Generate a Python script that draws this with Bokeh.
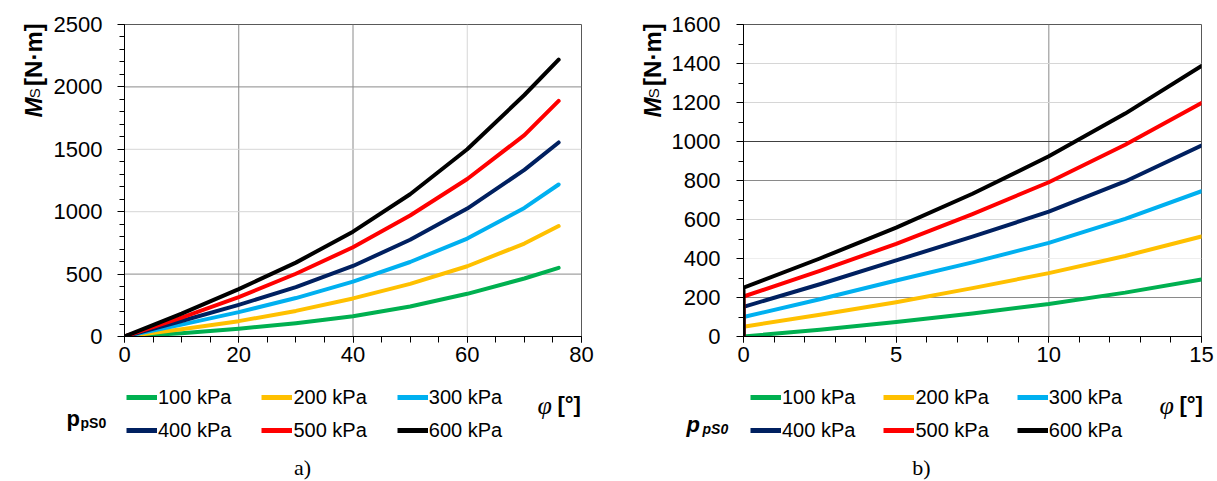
import math
from bokeh.plotting import figure
from bokeh.models import Range1d, SingleIntervalTicker, Span, Legend, LegendItem
from bokeh.layouts import row, column
from bokeh.core.properties import value
from bokeh.embed import file_html
from bokeh.resources import INLINE

# ---------------- data ----------------
series_labels = ["100 kPa", "200 kPa", "300 kPa", "400 kPa", "500 kPa", "600 kPa"]
series_colors = ["#00B050", "#FFC000", "#00B0F0", "#002060", "#FF0000", "#000000"]

# panel a)
phi_a = [0, 10, 20, 30, 40, 50, 60, 70, 76]
ms_a_100 = [0, 27, 62, 107, 162, 240, 342, 465, 550]
ms_a_200 = [0, 58, 123, 205, 305, 422, 563, 745, 885]
ms_a_300 = [0, 95, 195, 308, 440, 597, 785, 1030, 1218]
ms_a_400 = [0, 124, 254, 395, 565, 775, 1025, 1335, 1555]
ms_a_500 = [0, 152, 315, 503, 715, 970, 1262, 1614, 1888]
ms_a_600 = [0, 184, 380, 592, 840, 1140, 1500, 1935, 2218]

# panel b)
phi_b = [0, 0, 2.5, 5, 7.5, 10, 12.5, 15]
ms_b_100 = [0, 0, 35, 74, 118, 167, 225, 292]
ms_b_200 = [0, 50, 112, 176, 248, 325, 413, 513]
ms_b_300 = [0, 100, 191, 287, 380, 480, 603, 745]
ms_b_400 = [0, 152, 268, 390, 512, 640, 795, 979]
ms_b_500 = [0, 205, 337, 475, 628, 791, 983, 1197]
ms_b_600 = [0, 250, 400, 558, 732, 924, 1143, 1387]

FONT = "Liberation Sans"
SERIF = "Liberation Serif"
DARK = "#8a8a8a"
LIGHT = "#d6d6d6"

TOP_H = 376      # height of the chart row
BOT_H = 481 - TOP_H


def make_fig(xr, yr, xint, xminor, yint, yminor, left_border, frame_w, right_border, y_standoff):
    p = figure(output_backend="svg", toolbar_location=None,
               frame_width=frame_w, frame_height=312,
               min_border_left=left_border, min_border_right=right_border,
               min_border_top=24, min_border_bottom=TOP_H - 24 - 312,
               x_range=Range1d(*xr), y_range=Range1d(*yr))
    p.xgrid.visible = False
    p.ygrid.visible = False
    p.outline_line_color = "#595959"
    p.outline_line_width = 1
    p.xaxis.ticker = SingleIntervalTicker(interval=xint, num_minor_ticks=xminor)
    p.yaxis.ticker = SingleIntervalTicker(interval=yint, num_minor_ticks=yminor)
    for ax in (p.xaxis[0], p.yaxis[0]):
        ax.axis_line_color = "black"
        ax.axis_line_width = 1
        ax.major_tick_line_color = "black"
        ax.minor_tick_line_color = "black"
        ax.major_tick_in = 0
        ax.minor_tick_in = 0
        ax.major_label_text_font = FONT
        ax.major_label_text_font_size = "22px"
        ax.major_label_text_color = "black"
    p.xaxis.major_tick_out = 6
    p.xaxis.minor_tick_out = 6
    p.xaxis.major_label_standoff = 4
    p.yaxis.major_tick_out = 7
    p.yaxis.minor_tick_out = 5
    p.yaxis.major_label_standoff = y_standoff
    return p


def helper(w, h):
    f = figure(output_backend="svg", toolbar_location=None, width=w, height=h,
               x_range=Range1d(0, w), y_range=Range1d(h, 0),
               x_axis_type=None, y_axis_type=None, min_border=0)
    f.xgrid.visible = False
    f.ygrid.visible = False
    f.outline_line_color = None
    return f


def txt(f, x, y, s, size, style="normal", font=FONT, align="left", angle=0.0):
    f.text(x=[x], y=[y], text=[s], text_font=value(font), text_font_size=size,
           text_font_style=style, text_color="black", text_align=align,
           text_baseline="alphabetic", angle=angle)


def add_grid(p, xs, ys):
    for loc, col in xs:
        p.add_layout(Span(location=loc, dimension="height", line_color=col, line_width=1, level="underlay"))
    for loc, col in ys:
        p.add_layout(Span(location=loc, dimension="width", line_color=col, line_width=1, level="underlay"))


def add_legends(f, x0, spacing):
    # legend-only renderers (kept outside the visible area of the helper canvas)
    rends = [f.line(x=[-100, -90], y=[-100, -100], line_color=c, line_width=5) for c in series_colors]
    for i, bottom in enumerate((72, 39)):
        items = [LegendItem(label=series_labels[3 * i + k], renderers=[rends[3 * i + k]]) for k in range(3)]
        lg = Legend(items=items, location=(x0, bottom), orientation="horizontal",
                    spacing=spacing, padding=0, margin=0, glyph_width=31, glyph_height=24,
                    label_height=24, label_standoff=1, label_text_font=FONT,
                    label_text_font_size="20px", label_text_baseline="middle",
                    label_text_color="black",
                    background_fill_alpha=0, border_line_alpha=0)
        f.add_layout(lg)


def y_title(f, xb):
    # rotated "M_S [N·m]" built from styled pieces, reading bottom to top
    txt(f, xb, 112, "M", "24px", "bold italic", angle=math.pi / 2)
    txt(f, xb + 1, 89, "S", "15px", "normal", angle=math.pi / 2)
    txt(f, xb, 74, "[N·m]", "24px", "bold", angle=math.pi / 2)


# ---------------- panel a ----------------
pa = make_fig((0, 80), (0, 2500), 20, 4, 500, 5, 74, 457, 27, 15)
add_grid(pa, [(20, DARK), (40, DARK), (60, LIGHT)],
         [(500, DARK), (1000, LIGHT), (1500, LIGHT), (2000, DARK)])
for ys, c in zip([ms_a_100, ms_a_200, ms_a_300, ms_a_400, ms_a_500, ms_a_600], series_colors):
    pa.line(phi_a, ys, line_color=c, line_width=4, line_cap="round", line_join="round")

ya = helper(50, TOP_H)
y_title(ya, 33)

ba = helper(608, BOT_H)
add_legends(ba, 126, 30)
txt(ba, 66, 42, "p", "22px", "bold")
txt(ba, 80, 46, "pS0", "14px", "bold")
txt(ba, 537, 29, "φ", "26px", "italic", font=SERIF)
txt(ba, 557, 28, "[°]", "22px", "bold")
txt(ba, 302, 91, "a)", "22px", "normal", font=SERIF, align="center")

# ---------------- panel b ----------------
YB_W = 60
pb = make_fig((0, 15), (0, 1600), 5, 5, 200, 2, 741 - 608 - YB_W, 458, 18, 16)
add_grid(pb, [(5, "#e4e4e4"), (10, DARK)],
         [(200, DARK), (400, "#eeeeee"), (600, LIGHT), (800, DARK), (1000, "#404040"),
          (1200, LIGHT), (1400, LIGHT)])
for ys, c in zip([ms_b_100, ms_b_200, ms_b_300, ms_b_400, ms_b_500, ms_b_600], series_colors):
    pb.line(phi_b, ys, line_color=c, line_width=4, line_cap="round", line_join="round")

yb = helper(YB_W, TOP_H)
y_title(yb, 652 - 608)

bb = helper(609, BOT_H)
add_legends(bb, 750 - 608, 28)
txt(bb, 686 - 608, 48, "p", "22px", "bold italic")
txt(bb, 702 - 608, 52, "pS0", "14px", "bold italic")
txt(bb, 1159 - 608, 29, "φ", "26px", "italic", font=SERIF)
txt(bb, 1179 - 608, 28, "[°]", "22px", "bold")
txt(bb, 921 - 608, 91, "b)", "22px", "normal", font=SERIF, align="center")

layout = row(column(row(ya, pa), ba), column(row(yb, pb), bb))
open("out.html", "w").write(file_html(layout, INLINE))
